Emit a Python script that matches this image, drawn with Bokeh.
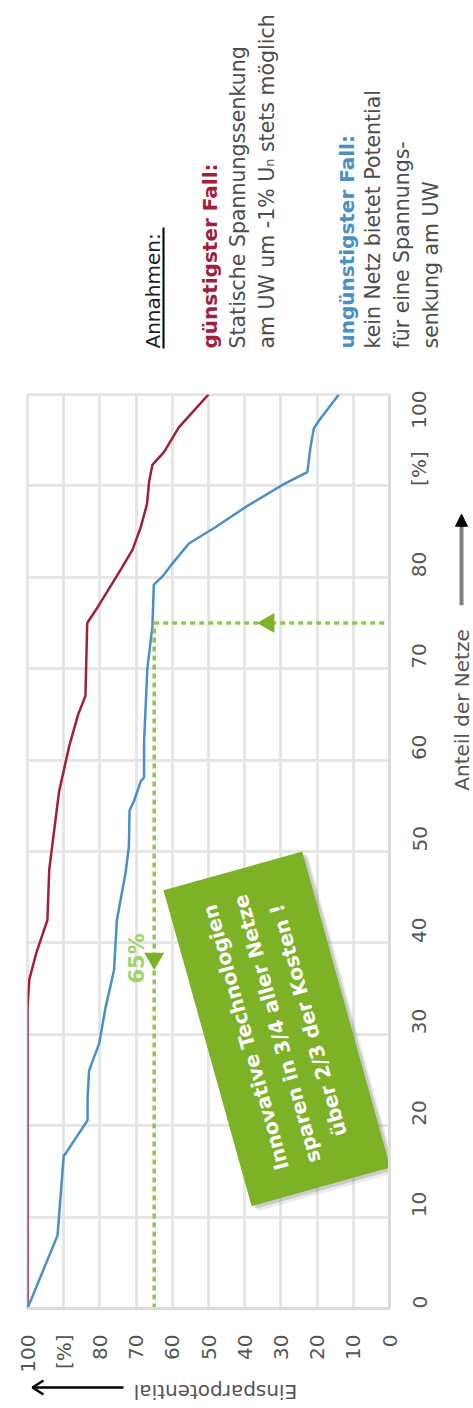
import math

from bokeh.core.properties import value
from bokeh.embed import file_html
from bokeh.layouts import column, row
from bokeh.models import FixedTicker, Range1d
from bokeh.plotting import figure
from bokeh.resources import INLINE

# ---- data -------------------------------------------------------------
# share of grids [%] (vertical axis) and saving potential [%] (horizontal axis)
best_share = [0, 33, 36, 39, 42.5, 48, 56.5, 61.5, 65, 67, 75, 76.5, 81, 83,
              85.5, 88, 90.5, 92.3, 93.7, 96.4, 100]
best_saving = [100, 100, 99.5, 97.5, 94.5, 94, 91.3, 88.5, 86, 84, 83.5, 81, 74, 71,
               68.7, 67, 66.4, 65.5, 62.3, 58.2, 50]

worst_share = [0, 8, 16.7, 17, 20.6, 23, 26, 29, 33, 37, 42.5, 47.7, 50.5, 54.5,
               55.5, 57.7, 58.1, 62, 70, 74.6, 79.2, 80.1, 81.5, 83.7, 84.6, 85.5,
               87.7, 90.1, 91.5, 94.3, 96.3, 97.4, 100]
worst_saving = [100, 91.7, 90, 89.4, 83.4, 83.4, 83, 80.2, 78.4, 76.1, 75.3, 72.9, 72,
                71.8, 70.6, 68.7, 67.8, 67.8, 66.9, 65.5, 65.1, 62.7, 60, 55.4, 51.7,
                48, 39.7, 29.6, 22.7, 21.8, 20.9, 19, 14]

ticks = [0, 10, 20, 30, 40, 50, 60, 70, 80, 90, 100]
tick_overrides = {90: "[%]"}

highlight_saving = 65   # saving reached ...
highlight_share = 75    # ... by this share of grids
highlight_label = "65%"

box_text = "Innovative Technologien\nsparen in 3/4 aller Netze\nüber 2/3 der Kosten !"

x_title = "Einsparpotential"
y_title = "Anteil der Netze"

# assumption notes: (text, colour key, bold)
notes = [
    ("Annahmen:", "dark", False),
    ("günstigster Fall:", "red", True),
    ("Statische Spannungssenkung", "gray", False),
    ("am UW um -1% U\u2099 stets möglich", "gray", False),
    ("ungünstigster Fall:", "blue", True),
    ("kein Netz bietet Potential", "gray", False),
    ("für eine Spannungs-", "gray", False),
    ("senkung am UW", "gray", False),
]

# ---- styling ----------------------------------------------------------
FONT = "DejaVu Sans"
RED = "#a0203a"
BLUE = "#4a8fc6"
GREEN = "#7db226"
DASH_GREEN = "#8fc650"
GRID = "#e6e6e6"
TEXT = "#555555"
COLORS = {"dark": "#222222", "red": RED, "blue": BLUE, "gray": "#4d4d4d"}

W, H = 473, 1408
TOP_H = 390            # notes panel
MAIN_W, MAIN_H = 448, 985
SIDE_W = W - MAIN_W
BOTTOM_H = H - TOP_H - MAIN_H
FRAME_L, FRAME_R, FRAME_T, FRAME_B = 27, 389, 394, 1311


def blank(width, height):
    """A plain drawing panel whose data units are pixels (y pointing up)."""
    f = figure(width=width, height=height, output_backend="svg", toolbar_location=None,
               x_range=Range1d(0, width), y_range=Range1d(0, height),
               min_border=0, min_border_left=0, min_border_right=0,
               min_border_top=0, min_border_bottom=0)
    f.axis.visible = False
    f.grid.visible = False
    f.outline_line_color = None
    f.background_fill_color = "white"
    f.border_fill_color = "white"
    return f


# ---- notes panel --------------------------------------------------------
top = blank(W, TOP_H)
note_x = [152.5, 209, 237.5, 266, 346, 372, 401.5, 430]
note_base = 348
for (txt, ckey, bold), nx in zip(notes, note_x):
    top.text([nx], [TOP_H - note_base], text=[txt], angle=math.pi / 2,
             text_align="left", text_baseline="middle", text_font=value(FONT),
             text_font_size="20px" if bold or ckey == "dark" else "20.5px",
             text_font_style="bold" if bold else "normal",
             text_color=COLORS[ckey])
top.segment([163], [TOP_H - 348], [163], [TOP_H - 227], line_color="black", line_width=2)

# ---- main chart -----------------------------------------------------------
p = figure(width=MAIN_W, height=MAIN_H, output_backend="svg", toolbar_location=None,
           x_range=Range1d(100, 0), y_range=Range1d(0, 100),
           x_axis_location="below", y_axis_location="right",
           min_border_left=FRAME_L, min_border_right=MAIN_W - FRAME_R,
           min_border_top=FRAME_T - TOP_H,
           min_border_bottom=TOP_H + MAIN_H - FRAME_B)
p.background_fill_color = "white"
p.border_fill_color = "white"
p.outline_line_color = GRID
p.outline_line_width = 3

for ax in (p.xaxis[0], p.yaxis[0]):
    ax.ticker = FixedTicker(ticks=ticks)
    ax.major_label_overrides = tick_overrides
    ax.major_label_orientation = math.pi / 2
    ax.major_label_text_font = FONT
    ax.major_label_text_font_size = "20px"
    ax.major_label_text_color = TEXT
    ax.major_tick_line_color = None
    ax.minor_tick_line_color = None
    ax.major_tick_out = 0
    ax.major_tick_in = 0
    ax.axis_line_color = "#dcdcdc"
    ax.axis_line_width = 3
p.xaxis[0].major_label_standoff = 26
p.yaxis[0].major_label_standoff = 30

for g in (p.xgrid[0], p.ygrid[0]):
    g.ticker = FixedTicker(ticks=ticks)
    g.grid_line_color = GRID
    g.grid_line_width = 3

# curves
p.line(best_saving, best_share, line_color=RED, line_width=2.5)
p.line(worst_saving, worst_share, line_color=BLUE, line_width=2.5)

# highlight: 65 % saving in 3/4 of the grids
p.line([highlight_saving, highlight_saving], [0, highlight_share],
       line_color=DASH_GREEN, line_width=3.5, line_dash="5 4")
p.line([highlight_saving, 0], [highlight_share, highlight_share],
       line_color=DASH_GREEN, line_width=3.5, line_dash="5 4")
p.scatter([highlight_saving], [38.3], marker="triangle", size=20, angle=math.pi,
          fill_color=GREEN, line_color=None)
p.scatter([33.4], [highlight_share], marker="triangle", size=20, angle=math.pi / 2,
          fill_color=GREEN, line_color=None)
p.text([69.8], [38.3], text=[highlight_label], angle=math.pi / 2,
       text_font=value(FONT), text_font_size="21px", text_font_style="bold",
       text_color="#a3d26c", text_align="center", text_baseline="middle")

# tilted message box with a soft shadow
for dx, dy, alpha in ((1.7, 0.55, 0.15), (1.0, 0.3, 0.3)):
    p.rect([31.1 - dx], [30.6 - dy], width=144, height=328, width_units="screen",
           height_units="screen", angle=0.272, fill_color="#7f7f7f", fill_alpha=alpha,
           line_color=None)
p.rect([31.1], [30.6], width=144, height=328, width_units="screen",
       height_units="screen", angle=0.272, fill_color=GREEN, line_color=None)
p.text([31.1], [30.6], text=[box_text], angle=1.841, text_color="white",
       text_font=value(FONT), text_font_style="bold", text_font_size="20px",
       text_align="center", text_baseline="middle", text_line_height=1.35)

# ---- vertical-axis title with arrow -----------------------------------------
side = blank(SIDE_W, MAIN_H)
sx = 461 - MAIN_W
def side_y(Y):
    return TOP_H + MAIN_H - Y
side.text([sx], [side_y(643)], text=[y_title], angle=math.pi / 2, text_align="right",
          text_baseline="middle", text_font=value(FONT), text_font_size="20px",
          text_color=TEXT)
side.segment([sx], [side_y(617)], [sx], [side_y(530)], line_color="#808080", line_width=4)
side.patch([sx - 6, sx, sx + 6], [side_y(532), side_y(519), side_y(532)],
           fill_color="black", line_color="black")

# ---- horizontal-axis title with arrow ---------------------------------------
bottom = blank(W, BOTTOM_H)
def bottom_y(Y):
    return H - Y
bottom.text([215], [bottom_y(1391)], text=[x_title], angle=math.pi, text_align="center",
            text_baseline="middle", text_font=value(FONT), text_font_size="20px",
            text_color=TEXT)
bottom.segment([123], [bottom_y(1387)], [33], [bottom_y(1387)], line_color="black",
               line_width=2.5)
bottom.line([43, 32, 43], [bottom_y(1380), bottom_y(1387), bottom_y(1394)],
            line_color="black", line_width=2.5)

layout = column(top, row(p, side), bottom)
open("out.html", "w").write(file_html(layout, INLINE))
